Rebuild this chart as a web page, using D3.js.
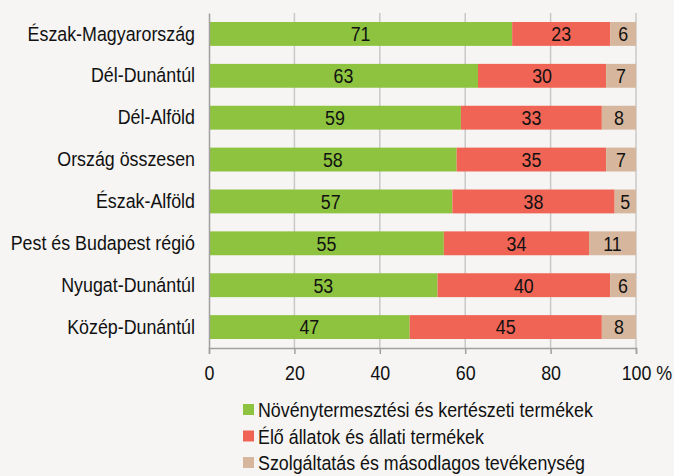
<!DOCTYPE html>
<html>
<head>
<meta charset="utf-8">
<script src="https://cdn.jsdelivr.net/npm/d3@7"></script>
<style>
  body { margin: 0; background: #f6f5f3; }
  svg { display: block; font-family: "Liberation Sans", Arial, sans-serif; }
</style>
</head>
<body>
<svg id="chart"></svg>
<script>
var width = 674, height = 476
var margin = { top: 13, left: 209, bottom: 128, right: 38 }
var fs = 20.5, narrow = 0.87 // narrow font look

// data
var regions = ['Észak-Magyarország', 'Dél-Dunántúl', 'Dél-Alföld', 'Ország összesen',
  'Észak-Alföld', 'Pest és Budapest régió', 'Nyugat-Dunántúl', 'Közép-Dunántúl']
var noveny = [71, 63, 59, 58, 57, 55, 53, 47]
var allat = [23, 30, 33, 35, 38, 34, 40, 45]
var szolg = [6, 7, 8, 7, 5, 11, 6, 8]
var seriesNames = ['Növénytermesztési és kertészeti termékek', 'Élő állatok és állati termékek',
  'Szolgáltatás és másodlagos tevékenység']
var colors = ['#8dc33f', '#f06455', '#d6b79d']
var ticks = [0, 20, 40, 60, 80, 100]

var rows = regions.map((r, i) => ({ region: r, s0: noveny[i], s1: allat[i], s2: szolg[i] }))
var stack = d3.stack().keys(['s0', 's1', 's2']).offset(d3.stackOffsetExpand)
var layers = stack(rows)

var svg = d3.select('#chart').attr('width', width).attr('height', height)
var iw = width - margin.left - margin.right
var ih = height - margin.top - margin.bottom
var g = svg.append('g').attr('transform', 'translate(' + margin.left + ',' + margin.top + ')')

var x = d3.scaleLinear().domain([0, 100]).range([0, iw])
var y = d3.scaleBand().domain(regions).range([0, ih]).paddingInner(0.43).paddingOuter(0.215)

// squeeze text horizontally around its anchor
function squeeze(sel) {
  sel.each(function () {
    var t = d3.select(this)
    var tx = +t.attr('x') || 0, ty = +t.attr('y') || 0
    t.attr('x', 0).attr('y', 0)
      .attr('transform', 'translate(' + tx + ',' + ty + ') scale(' + narrow + ',1)')
  })
}

// gridlines
g.selectAll('.grid').data(ticks.slice(1)).enter().append('line')
  .attr('x1', d => x(d)).attr('x2', d => x(d))
  .attr('y1', 0).attr('y2', ih)
  .attr('stroke', '#c8c8c8').attr('stroke-width', 1.5)

// bars
var layer = g.selectAll('.layer').data(layers).enter().append('g')
  .attr('fill', (d, i) => colors[i])
layer.selectAll('rect').data(d => d).enter().append('rect')
  .attr('x', d => x(d[0] * 100))
  .attr('width', d => x(d[1] * 100) - x(d[0] * 100))
  .attr('y', d => y(d.data.region))
  .attr('height', y.bandwidth())

// value labels
layers.forEach((L, k) => {
  g.selectAll('.lab' + k).data(L).enter().append('text')
    .attr('x', d => x((d[0] + d[1]) * 50))
    .attr('y', d => y(d.data.region) + y.bandwidth() / 2)
    .attr('dy', '0.36em')
    .attr('text-anchor', 'middle')
    .attr('font-size', fs)
    .attr('fill', '#111')
    .text(d => d.data['s' + k])
    .call(squeeze)
})

// axes
var xAxis = g.append('g').attr('transform', 'translate(0,' + ih + ')')
  .call(d3.axisBottom(x).tickValues(ticks).tickSize(6).tickPadding(11)
    .tickFormat(d => d === 100 ? '100 %' : d))
xAxis.select('.domain').attr('stroke', '#a0a0a0').attr('stroke-width', 1.5)
xAxis.selectAll('.tick line').attr('stroke', '#a0a0a0').attr('stroke-width', 1.5)
xAxis.selectAll('.tick text').attr('font-size', fs).attr('fill', '#111')
xAxis.selectAll('.tick').filter(d => d === 100).select('text')
  .attr('text-anchor', 'start').attr('x', -fs * 1.668 * narrow / 2)
xAxis.selectAll('.tick text').call(squeeze)

var yAxis = g.append('g')
  .call(d3.axisLeft(y).tickSize(0).tickPadding(14))
yAxis.select('.domain').attr('stroke', '#a0a0a0').attr('stroke-width', 1.5)
yAxis.selectAll('.tick text').attr('font-size', fs).attr('fill', '#111').call(squeeze)

svg.selectAll('.tick text').attr('font-family', null)

// legend
var legend = svg.append('g').attr('transform', 'translate(243,404)')
var li = legend.selectAll('g').data(seriesNames).enter().append('g')
  .attr('transform', (d, i) => 'translate(0,' + i * 26.5 + ')')
li.append('rect').attr('width', 11).attr('height', 11)
  .attr('fill', (d, i) => colors[i])
li.append('text').attr('x', 15).attr('y', 6).attr('dy', '0.36em')
  .attr('font-size', fs).attr('fill', '#111').text(d => d)
  .call(squeeze)
</script>
</body>
</html>
